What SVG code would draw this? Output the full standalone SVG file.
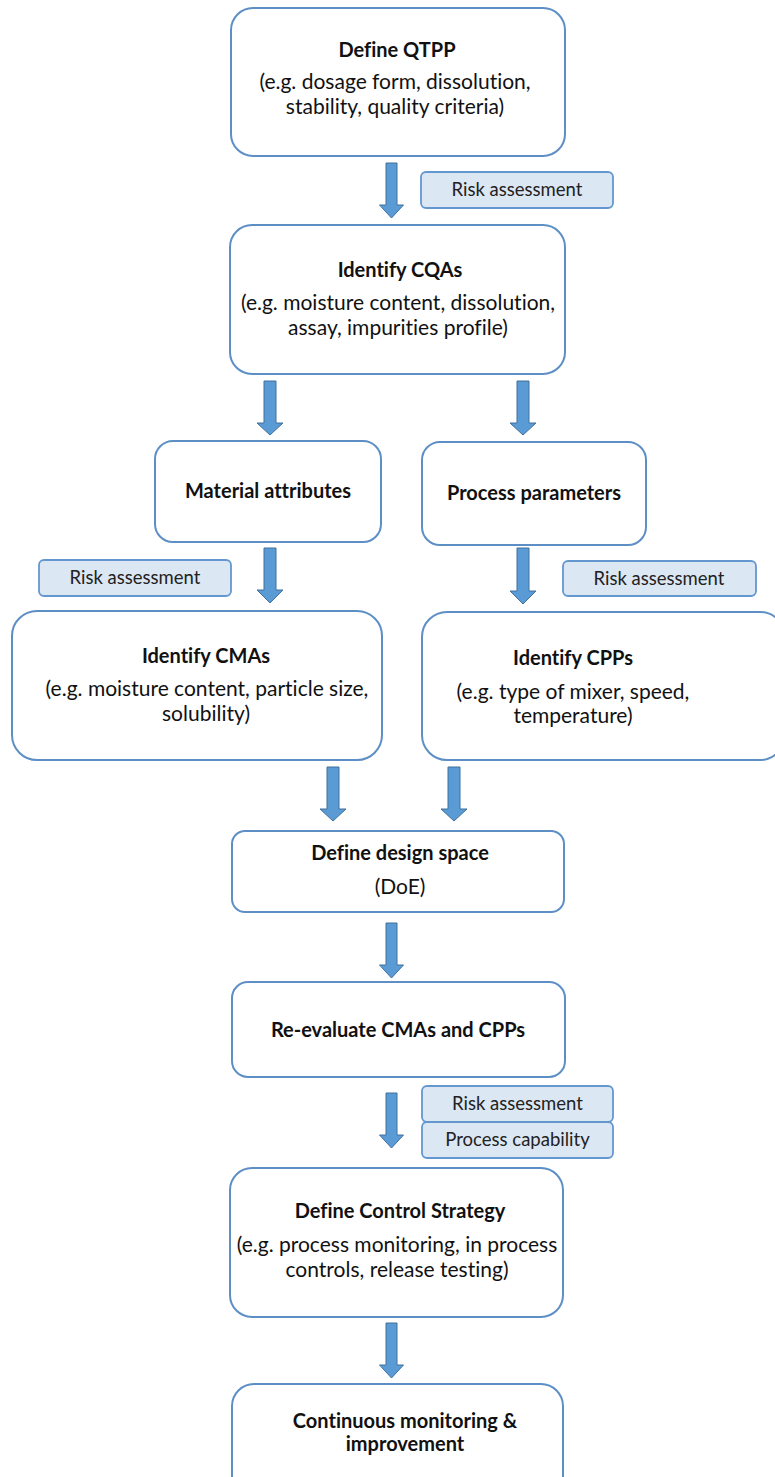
<svg xmlns="http://www.w3.org/2000/svg" width="775" height="1477" viewBox="0 0 775 1477">
<style>
.node{fill:#ffffff;stroke:#5d8fc6;stroke-width:2}
.tag{fill:#dce7f4;stroke:#6497cf;stroke-width:1.8}
.arrow{fill:#5b9bd5;stroke:#41719c;stroke-width:1}
text{font-family:Lato,"Liberation Sans",sans-serif;fill:#111;text-anchor:middle;font-variant-ligatures:none}
.t{font-weight:bold;font-size:20px}
.b{font-size:21px}
.g{font-size:18.5px;fill:#222}
</style>
<rect width="775" height="1477" fill="#ffffff"/>
<g id="connectors">
<path class="arrow" d="M386,163H397V205H403.5L391.5,218L379.5,205H386Z"/>
<path class="arrow" d="M264,381H276V423H283L270,435L257,423H264Z"/>
<path class="arrow" d="M517,381H529V423H536L523,435L510,423H517Z"/>
<path class="arrow" d="M264,548H276V590H283L270,603L257,590H264Z"/>
<path class="arrow" d="M517,548H529V591H536L523,604L510,591H517Z"/>
<path class="arrow" d="M327,767H339V809H346L333,821L320,809H327Z"/>
<path class="arrow" d="M448,767H460V809H467L454,821L441,809H448Z"/>
<path class="arrow" d="M386,923H397V965H403.5L391.5,978L379.5,965H386Z"/>
<path class="arrow" d="M386,1093H397V1135H403.5L391.5,1148L379.5,1135H386Z"/>
<path class="arrow" d="M386,1323H397V1365H403.5L391.5,1378L379.5,1365H386Z"/>
</g>
<g id="tag-risk-1"><rect class="tag" x="421" y="172" width="192" height="36" rx="5"/><text class="g" x="517" y="196">Risk assessment</text></g>
<g id="tag-risk-2"><rect class="tag" x="39" y="560" width="192" height="36" rx="5"/><text class="g" x="135" y="584">Risk assessment</text></g>
<g id="tag-risk-3"><rect class="tag" x="563" y="561" width="193" height="35" rx="5"/><text class="g" x="659" y="585">Risk assessment</text></g>
<g id="tag-risk-4"><rect class="tag" x="422" y="1086" width="191" height="36" rx="5"/><text class="g" x="517.5" y="1110">Risk assessment</text></g>
<g id="tag-capability"><rect class="tag" x="422" y="1122" width="191" height="36" rx="5"/><text class="g" x="517.5" y="1146">Process capability</text></g>
<g id="node-qtpp"><rect class="node" x="231" y="8" width="334" height="148" rx="22"/>
<text class="t" x="397" y="57">Define QTPP</text>
<text class="b" x="395" y="89">(e.g. dosage form, dissolution,</text>
<text class="b" x="395" y="114">stability, quality criteria)</text></g>
<g id="node-cqas"><rect class="node" x="230" y="225" width="335" height="149" rx="22"/>
<text class="t" x="400" y="277">Identify CQAs</text>
<text class="b" x="398" y="310">(e.g. moisture content, dissolution,</text>
<text class="b" x="398" y="335">assay, impurities profile)</text></g>
<g id="node-material"><rect class="node" x="155" y="441" width="226" height="101" rx="18"/>
<text class="t" x="268" y="498">Material attributes</text></g>
<g id="node-process"><rect class="node" x="422" y="442" width="224" height="103" rx="18"/>
<text class="t" x="534" y="500">Process parameters</text></g>
<g id="node-cmas"><rect class="node" x="12" y="611" width="370" height="149" rx="25"/>
<text class="t" x="206" y="663">Identify CMAs</text>
<text class="b" x="207" y="696">(e.g. moisture content, particle size,</text>
<text class="b" x="206" y="721">solubility)</text></g>
<g id="node-cpps"><rect class="node" x="422" y="612" width="363" height="148" rx="25"/>
<text class="t" x="573" y="665">Identify CPPs</text>
<text class="b" x="573" y="699">(e.g. type of mixer, speed,</text>
<text class="b" x="573" y="723">temperature)</text></g>
<g id="node-design"><rect class="node" x="232" y="831" width="332" height="81" rx="13"/>
<text class="t" x="400" y="860">Define design space</text>
<text class="b" x="400" y="894">(DoE)</text></g>
<g id="node-reevaluate"><rect class="node" x="232" y="982" width="333" height="95" rx="16"/>
<text class="t" x="398" y="1037">Re-evaluate CMAs and CPPs</text></g>
<g id="node-control"><rect class="node" x="230" y="1168" width="333" height="149" rx="22"/>
<text class="t" x="400" y="1218">Define Control Strategy</text>
<text class="b" x="397" y="1252">(e.g. process monitoring, in process</text>
<text class="b" x="397" y="1277">controls, release testing)</text></g>
<g id="node-continuous"><rect class="node" x="232" y="1384" width="331" height="130" rx="22"/>
<text class="t" x="405" y="1428">Continuous monitoring &amp;</text>
<text class="t" x="405" y="1451">improvement</text></g>
</svg>
